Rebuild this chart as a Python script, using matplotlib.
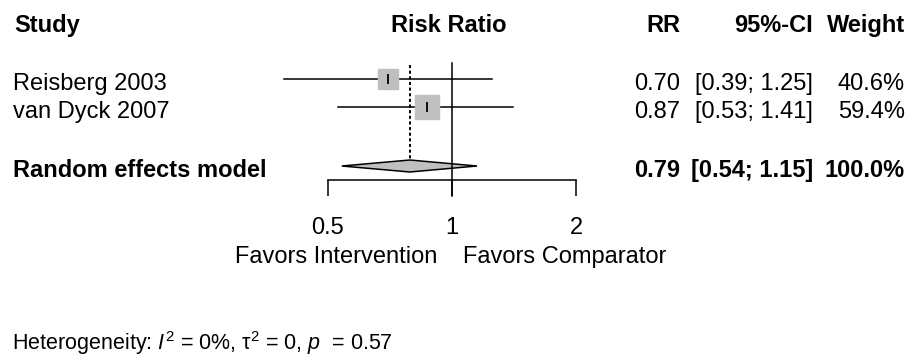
import numpy as np
import matplotlib
matplotlib.use('Agg')
import matplotlib.pyplot as plt
from matplotlib import rc

rc('font', family=['Liberation Sans', 'DejaVu Sans'], size=17)
rc('mathtext', fontset='custom', rm='Liberation Sans', it='Liberation Sans:italic',
   bf='Liberation Sans:bold')

# data
studies = ['Reisberg 2003', 'van Dyck 2007']
rr = [0.70, 0.87]
ci_low = [0.39, 0.53]
ci_high = [1.25, 1.41]
weight = [40.6, 59.4]
pooled_label = 'Random effects model'
pooled = [0.79, 0.54, 1.15]   # estimate, lower, upper
ticks = [0.5, 1, 2]
tick_labels = ['0.5', '1', '2']
het_text = 'Heterogeneity: $I^2$ = 0%, $\\mathrm{\\tau}^2$ = 0, $p$  = 0.57'

# layout (pixels from top)
W, H = 912, 358
row_y = [79, 107]
pool_y = 166
axis_y = 180
grey = '#BFBFBF'

fig = plt.figure(figsize=(W / 100, H / 100), dpi=100)

# text layer in pixel coordinates
tax = fig.add_axes([0, 0, 1, 1])
tax.set_xlim(0, W)
tax.set_ylim(H, 0)
tax.axis('off')

# forest layer, log2 x scale (0.5 -> 327px, 1 -> 452px, 2 -> 575px)
x0, x1 = 250, 650
fax = fig.add_axes([x0 / W, 0, (x1 - x0) / W, 1])
fax.patch.set_visible(False)
fax.set_xscale('log', base=2)
fax.set_xlim(2 ** ((x0 - 452) / 124), 2 ** ((x1 - 452) / 124))
fax.set_ylim(H, 0)
for s in ['top', 'left', 'right']:
    fax.spines[s].set_visible(False)
fax.spines['bottom'].set_position(('data', axis_y))
fax.spines['bottom'].set_bounds(ticks[0], ticks[-1])
fax.spines['bottom'].set_linewidth(1.1)
fax.set_yticks([])
fax.set_xticks(ticks)
fax.set_xticklabels(tick_labels)
fax.xaxis.set_minor_locator(matplotlib.ticker.NullLocator())
fax.tick_params(axis='x', direction='out', length=11.5, width=1.1, pad=15, labelsize=17)

# reference line and pooled estimate line
fax.plot([1, 1], [63, 196], color='black', lw=1.1)
fax.plot([pooled[0], pooled[0]], [65, 159], color='black', lw=1.4,
         linestyle=(0, (1.6, 1.3)))

# study CIs and squares
for y, est, lo, hi, w in zip(row_y, rr, ci_low, ci_high, weight):
    fax.plot([lo, hi], [y, y], color='black', lw=1.1)
    fax.plot(est, y, marker='s', ms=2.25 * np.sqrt(w), color=grey, mec=grey)
    fax.plot(est, y, marker='|', ms=6.5, mew=1.3, color='black')

# pooled diamond
fax.fill([pooled[1], pooled[0], pooled[2], pooled[0]],
         [pool_y, pool_y - 6, pool_y, pool_y + 6],
         facecolor=grey, edgecolor='black', lw=1.1)

# headers
hy = 32
tax.text(14, hy, 'Study', fontweight='bold')
tax.text(449, hy, 'Risk Ratio', fontweight='bold', ha='center')
tax.text(680, hy, 'RR', fontweight='bold', ha='right')
tax.text(813, hy, '95%-CI', fontweight='bold', ha='right')
tax.text(905, hy, 'Weight', fontweight='bold', ha='right')

# study rows
for y, name, est, lo, hi, w in zip(row_y, studies, rr, ci_low, ci_high, weight):
    tax.text(13, y + 11, name)
    tax.text(680, y + 11, f'{est:.2f}', ha='right')
    tax.text(813, y + 11, f'[{lo:.2f}; {hi:.2f}]', ha='right')
    tax.text(905, y + 11, f'{w:.1f}%', ha='right')

# pooled row
tax.text(13, pool_y + 11, pooled_label, fontweight='bold')
tax.text(680, pool_y + 11, f'{pooled[0]:.2f}', fontweight='bold', ha='right')
tax.text(813, pool_y + 11, f'[{pooled[1]:.2f}; {pooled[2]:.2f}]', fontweight='bold', ha='right')
tax.text(905, pool_y + 11, f'{sum(weight):.1f}%', fontweight='bold', ha='right')

# direction labels
tax.text(437, 263, 'Favors Intervention', ha='right')
tax.text(463, 263, 'Favors Comparator', ha='left')

# heterogeneity
tax.text(12, 350, het_text, fontsize=15.5)

plt.savefig('out.png', dpi=100)
